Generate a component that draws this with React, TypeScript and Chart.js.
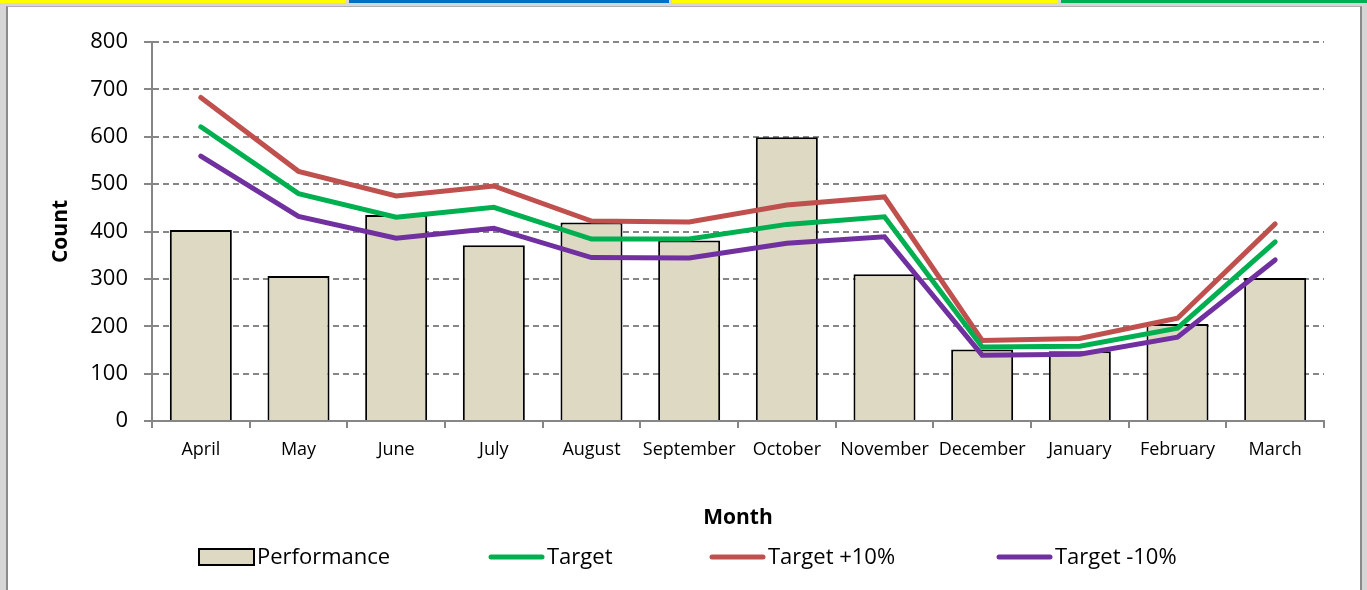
import React, { useEffect, useRef } from "react";
import { Chart, registerables } from "chart.js";

Chart.register(...registerables);

const categories = ["April", "May", "June", "July", "August", "September", "October", "November", "December", "January", "February", "March"];
const performance = [403, 306, 435, 371, 419, 381, 599, 310, 151, 147, 205, 302];
const target = [621, 480, 430, 451, 384, 384, 415, 431, 156, 158, 196, 378];
const targetPlus10 = [683, 527, 475, 496, 422, 420, 456, 473, 170, 174, 217, 416];
const targetMinus10 = [559, 432, 386, 407, 345, 344, 375, 389, 139, 141, 177, 340];
const yTicks = [0, 100, 200, 300, 400, 500, 600, 700, 800];

const FONT = "'Open Sans'";

const legendItems = [
  { label: "Performance", kind: "box", color: "#DDD9C3", x: 199 },
  { label: "Target", kind: "line", color: "#00B050", x: 489 },
  { label: "Target +10%", kind: "line", color: "#C0504D", x: 710 },
  { label: "Target -10%", kind: "line", color: "#7030A0", x: 997 },
];

const customLegend = {
  id: "customLegend",
  afterDraw(chart: any) {
    const ctx = chart.ctx;
    ctx.save();
    ctx.font = `22px ${FONT}`;
    ctx.textBaseline = "middle";
    const y = 557;
    for (const it of legendItems) {
      const x = it.x;
      if (it.kind === "box") {
        ctx.fillStyle = it.color;
        ctx.fillRect(x, y - 8, 55, 16);
        ctx.strokeStyle = "#000";
        ctx.lineWidth = 2;
        ctx.strokeRect(x, y - 8, 55, 16);
      } else {
        ctx.strokeStyle = it.color;
        ctx.lineWidth = 5;
        ctx.lineCap = "round";
        ctx.beginPath();
        ctx.moveTo(x + 2, y);
        ctx.lineTo(x + 53, y);
        ctx.stroke();
      }
      ctx.fillStyle = "#000";
      ctx.fillText(it.label, x + 58, y + 1);
    }
    ctx.restore();
  },
};

export default function App() {
  const ref = useRef<HTMLCanvasElement>(null);
  useEffect(() => {
    document.body.style.margin = "0";
    const lineDs = (label: string, data: number[], color: string, order: number) => ({
      type: "line",
      label,
      data,
      borderColor: color,
      backgroundColor: color,
      borderWidth: 5,
      pointRadius: 0,
      tension: 0,
      borderCapStyle: "round",
      borderJoinStyle: "miter",
      order,
    });
    const chart = new Chart(ref.current!, {
      type: "bar",
      data: {
        labels: categories,
        datasets: [
          {
            type: "bar",
            label: "Performance",
            data: performance,
            backgroundColor: "#DDD9C3",
            borderColor: "#000000",
            borderWidth: 2,
            barPercentage: 0.635,
            categoryPercentage: 1,
            order: 5,
          },
          lineDs("Target +10%", targetPlus10, "#C0504D", 3),
          lineDs("Target", target, "#00B050", 2),
          lineDs("Target -10%", targetMinus10, "#7030A0", 1),
        ] as any,
      },
      options: {
        responsive: false,
        animation: false,
        devicePixelRatio: 1,
        layout: { padding: { left: 0, top: 42, right: 1367 - 1324, bottom: 0 } },
        plugins: { legend: { display: false }, tooltip: { enabled: false } },
        scales: {
          x: {
            type: "category",
            offset: true,
            afterFit: (s: any) => { s.height = 590 - 421; },
            grid: { offset: true, drawOnChartArea: false, drawTicks: true, tickLength: 7, color: "#868686", lineWidth: 2 },
            border: { display: true, color: "#868686", width: 2 },
            ticks: { font: { family: FONT, size: 18 }, color: "#000", padding: 11, maxRotation: 0, autoSkip: false },
            title: { display: true, text: "Month", font: { family: FONT, size: 21, weight: "bold" }, color: "#000", padding: { top: 0, bottom: 59 } },
          },
          y: {
            min: 0,
            max: 800,
            afterFit: (s: any) => { s.width = 152; },
            afterBuildTicks: (s: any) => { s.ticks = yTicks.map((v) => ({ value: v })); },
            grid: { color: "#868686", lineWidth: 2, tickLength: 8 },
            border: { display: true, color: "#868686", width: 2, dash: [6, 4] },
            ticks: { font: { family: FONT, size: 22 }, color: "#000", padding: 16 },
            title: { display: true, text: "Count", font: { family: FONT, size: 21, weight: "bold" }, color: "#000", padding: { top: 48, bottom: 0 } },
          },
        },
      } as any,
      plugins: [customLegend],
    });
    return () => chart.destroy();
  }, []);

  const strip = (left: number, width: number, color: string) => (
    <div style={{ position: "absolute", left, top: 0, width, height: 3, background: color }} />
  );

  return (
    <div style={{ position: "relative", width: 1367, height: 590, background: "#d6d6d6", overflow: "hidden" }}>
      {strip(0, 346, "#FFFF00")}
      {strip(349, 320, "#0070C0")}
      {strip(672, 386, "#FFFF00")}
      {strip(1061, 306, "#00B050")}
      <div style={{ position: "absolute", left: 6, top: 6, width: 1356, height: 584, background: "#fff", borderLeft: "2px solid #8a8a8a", borderRight: "2px solid #8a8a8a", borderTop: "1px solid #b0b0b0", boxSizing: "border-box" }} />
      <canvas ref={ref} width={1367} height={590} style={{ position: "absolute", left: 0, top: 0 }} />
    </div>
  );
}
